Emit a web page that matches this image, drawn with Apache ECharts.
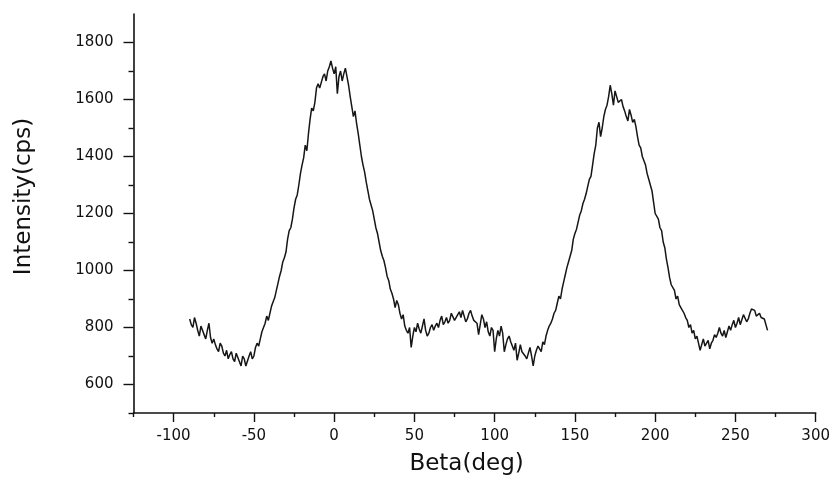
<!DOCTYPE html>
<html>
<head>
<meta charset="utf-8">
<script src="https://cdn.jsdelivr.net/npm/echarts@6/dist/echarts.min.js"></script>
<style>
html,body{margin:0;padding:0;background:#fff;}
#chart{width:833px;height:481px;}
</style>
</head>
<body>
<div id="chart"></div>
<script>
var betaDeg = [-90,-89,-88,-87,-86,-85,-84,-83,-82,-81,-80,-79,-78,-77,-76,-75,-74,-73,-72,-71,-70,-69,-68,-67,-66,-65,-64,-63,-62,-61,-60,-59,-58,-57,-56,-55,-54,-53,-52,-51,-50,-49,-48,-47,-46,-45,-44,-43,-42,-41,-40,-39,-38,-37,-36,-35,-34,-33,-32,-31,-30,-29,-28,-27,-26,-25,-24,-23,-22,-21,-20,-19,-18,-17,-16,-15,-14,-13,-12,-11,-10,-9,-8,-7,-6,-5,-4,-3,-2,-1,
0,1,2,3,4,5,6,7,8,9,10,11,12,13,14,15,16,17,18,19,20,21,22,23,24,25,26,27,28,29,30,31,32,33,34,35,36,37,38,39,40,41,42,43,44,45,46,47,48,49,50,51,52,53,54,55,56,57,58,59,60,61,62,63,64,65,66,67,68,69,70,71,72,73,74,75,76,77,78,79,80,81,82,83,84,85,86,87,88,89,
90,91,92,93,94,95,96,97,98,99,100,101,102,103,104,105,106,107,108,109,110,111,112,113,114,115,116,117,118,119,120,121,122,123,124,125,126,127,128,129,130,131,132,133,134,135,136,137,138,139,140,141,142,143,144,145,146,147,148,149,150,151,152,153,154,155,156,157,158,159,160,161,162,163,164,165,166,167,168,169,170,171,172,173,174,175,176,177,178,179,
180,181,182,183,184,185,186,187,188,189,190,191,192,193,194,195,196,197,198,199,200,201,202,203,204,205,206,207,208,209,210,211,212,213,214,215,216,217,218,219,220,221,222,223,224,225,226,227,228,229,230,231,232,233,234,235,236,237,238,239,240,241,242,243,244,245,246,247,248,249,250,251,252,253,254,255,256,257,258,259,260,261,262,263,264,265,266,267,268,269,270];
var intensity = [
830,810,800,835,815,790,770,805,800,775,760,790,815,765,745,760,740,725,715,745,735,710,700,720,690,705,715,690,680,710,
705,680,665,700,690,665,670,700,715,690,700,730,745,735,760,785,800,815,840,825,850,875,890,905,930,955,980,1000,1030,1045,
1065,1110,1140,1150,1180,1220,1250,1265,1300,1340,1370,1395,1440,1420,1480,1530,1570,1560,1590,1640,1655,1640,1660,1680,1690,1665,1700,1715,1735,1710,
1690,1715,1620,1680,1700,1665,1690,1710,1680,1650,1610,1575,1540,1560,1515,1480,1440,1400,1370,1345,1310,1280,1250,1230,1210,1180,1150,1130,1100,1070,
1050,1035,1010,980,965,935,920,900,870,895,880,850,830,845,805,790,780,800,730,770,800,785,815,795,780,805,830,790,770,780,
800,810,790,805,815,800,825,840,810,820,835,815,825,850,845,825,830,845,855,835,860,840,820,830,850,860,840,825,830,815,
775,810,845,830,800,820,785,770,800,790,715,760,790,770,805,780,715,740,760,770,750,735,720,745,685,710,740,715,720,700,
690,710,730,700,665,700,720,735,730,715,750,740,770,790,805,815,830,850,860,885,910,900,935,960,985,1010,1030,1050,1070,1110,
1130,1145,1170,1195,1210,1235,1250,1270,1295,1320,1330,1370,1410,1440,1500,1520,1470,1500,1540,1565,1580,1610,1650,1620,1580,1630,1610,1590,1590,1600,
1575,1560,1540,1525,1565,1545,1520,1530,1505,1470,1440,1430,1400,1385,1370,1340,1320,1300,1280,1240,1200,1205,1180,1150,1140,1100,1080,1040,1010,975,
950,945,930,900,910,880,870,875,850,835,825,800,810,780,790,760,770,745,720,740,760,735,740,755,725,745,755,775,765,780,
800,780,770,790,765,785,805,790,810,825,800,815,835,810,815,845,840,820,830,850,865,870,860,840,845,850,835,840,830,825,
790];

var xMajorTicks = [-100,-50,0,50,100,150,200,250,300];
var xMinorTicks = [-125,-75,-25,25,75,125,175,225,275];
var yMajorTicks = [600,800,1000,1200,1400,1600,1800];
var yMinorTicks = [500,700,900,1100,1300,1500,1700];
var xTitle = 'Beta(deg)';
var yTitle = 'Intensity(cps)';

var points = [];
for (var i = 0; i < betaDeg.length && i < intensity.length; i++) points.push([betaDeg[i], intensity[i]]);

var FONT = 'DejaVu Sans';
var INK = '#111';
var plain = function(v){ return String(v); };
var chart = echarts.init(document.getElementById('chart'), null, {renderer:'canvas'});

var baseX = { type:'value', min:-125, max:300, position:'bottom', splitLine:{show:false} };
var baseY = { type:'value', min:500, max:1900, position:'left', splitLine:{show:false} };

chart.setOption({
  animation:false,
  backgroundColor:'#ffffff',
  grid:{left:133.5, right:15.3, top:14, bottom:66.4, containLabel:false},
  xAxis:[
    Object.assign({}, baseX, {
      axisLine:{show:true, onZero:false, lineStyle:{color:INK, width:1.6}},
      axisTick:{show:true, customValues:xMajorTicks, length:9, lineStyle:{color:INK, width:1.4}},
      axisLabel:{show:true, customValues:xMajorTicks, formatter:plain, margin:16, color:INK, fontFamily:FONT, fontSize:15},
      name:xTitle, nameLocation:'middle', nameGap:40,
      nameTextStyle:{color:INK, fontFamily:FONT, fontSize:23, padding:[0,16,0,0]}
    }),
    Object.assign({}, baseX, {
      axisLine:{show:false, onZero:false},
      axisTick:{show:true, customValues:xMinorTicks, length:4, lineStyle:{color:INK, width:1.4}},
      axisLabel:{show:false}
    })
  ],
  yAxis:[
    Object.assign({}, baseY, {
      axisLine:{show:true, onZero:false, lineStyle:{color:INK, width:1.6}},
      axisTick:{show:true, customValues:yMajorTicks, length:10, lineStyle:{color:INK, width:1.4}},
      axisLabel:{show:true, customValues:yMajorTicks, formatter:plain, margin:20, color:INK, fontFamily:FONT, fontSize:15},
      name:yTitle, nameLocation:'middle', nameGap:98,
      nameTextStyle:{color:INK, fontFamily:FONT, fontSize:23, padding:[0,0,0,34]}
    }),
    Object.assign({}, baseY, {
      axisLine:{show:false, onZero:false},
      axisTick:{show:true, customValues:yMinorTicks, length:5, lineStyle:{color:INK, width:1.4}},
      axisLabel:{show:false}
    })
  ],
  series:[{
    type:'line', data:points, xAxisIndex:0, yAxisIndex:0,
    showSymbol:false, symbol:'none', smooth:false,
    lineStyle:{color:'#161616', width:1.5},
    silent:true
  }]
});
</script>
</body>
</html>
